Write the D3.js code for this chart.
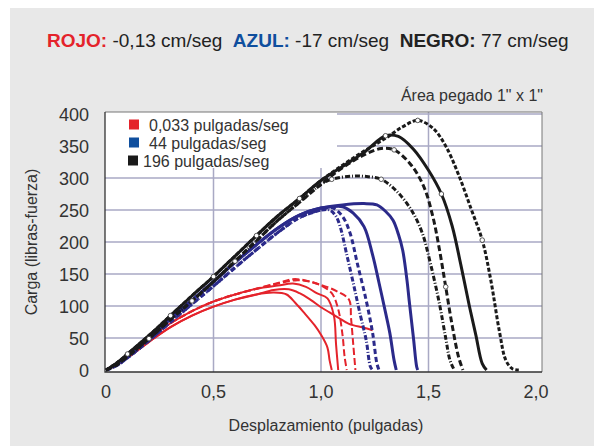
<!DOCTYPE html>
<html><head><meta charset="utf-8">
<script src="https://cdn.jsdelivr.net/npm/d3@7"></script>
<style>body{margin:0;background:#fff}svg{display:block}text{font-family:"Liberation Sans",Arial,sans-serif}</style>
</head><body><svg id="c" width="594" height="446"></svg>
<script>
// ---- data ----
const xTicks = [0, 0.5, 1.0, 1.5, 2.0];
const xTickLabels = ["0", "0,5", "1,0", "1,5", "2,0"];
const yTicks = [0, 50, 100, 150, 200, 250, 300, 350, 400];
const legendLabels = ["0,033 pulgadas/seg", "44 pulgadas/seg", "196 pulgadas/seg"];
const seriesNames = ["rojo", "azul", "negro"];

const blackRiseA = [[0,0],[0.05,11],[0.1,25],[0.2,54],[0.3,85],[0.4,116],[0.5,146],[0.6,178],[0.7,210],[0.8,241],[0.9,268],[1.0,296]];
const blackRiseB = [[0,0],[0.05,8],[0.1,21],[0.2,49],[0.3,79],[0.4,108],[0.5,138],[0.6,170],[0.7,202],[0.8,234],[0.9,262],[1.0,290]];
const blueRiseA  = [[0,0],[0.05,9],[0.1,22],[0.2,50],[0.3,80],[0.4,109],[0.5,138],[0.6,168],[0.7,196],[0.8,222],[0.9,242],[1.0,253]];
const blueRiseB  = [[0,0],[0.05,7],[0.1,19],[0.2,46],[0.3,75],[0.4,103],[0.5,131],[0.6,160],[0.7,188],[0.8,215],[0.9,238],[1.0,250]];
const redRiseA   = [[0,0],[0.05,10],[0.1,22],[0.2,49],[0.3,73],[0.4,92],[0.5,107],[0.6,118],[0.7,127]];
const redRiseB   = [[0,0],[0.05,8],[0.1,19],[0.2,44],[0.3,67],[0.4,85],[0.5,99],[0.6,110],[0.7,118]];

const black1 = [[1.1,320],[1.2,342],[1.3,362],[1.38,380],[1.45,390],[1.52,378],[1.58,350],[1.64,305],[1.7,250],[1.75,203],[1.79,140],[1.83,60],[1.86,15],[1.89,2],[1.92,0]];
const black2 = [[1.1,318],[1.2,340],[1.3,366],[1.36,365],[1.43,345],[1.5,312],[1.56,275],[1.61,225],[1.65,165],[1.69,100],[1.72,55],[1.75,10],[1.77,0]];
const black3 = [[1.1,316],[1.2,336],[1.28,346],[1.34,344],[1.42,320],[1.48,285],[1.52,240],[1.55,190],[1.58,130],[1.61,70],[1.64,20],[1.66,0]];
const black4 = [[1.05,298],[1.15,303],[1.22,302],[1.28,298],[1.35,280],[1.42,250],[1.47,215],[1.51,165],[1.55,105],[1.58,50],[1.6,15],[1.62,0]];

const blue1 = [[1.1,258],[1.2,260],[1.26,258],[1.3,248],[1.335,234],[1.36,212],[1.38,187],[1.4,140],[1.41,109],[1.43,50],[1.445,5],[1.45,0]];
const blue2 = [[1.05,255],[1.1,255],[1.15,245],[1.2,224],[1.24,180],[1.27,136],[1.3,90],[1.32,58],[1.34,15],[1.35,0]];
const blue3 = [[1.05,254],[1.1,240],[1.135,214],[1.17,165],[1.21,109],[1.24,58],[1.26,10],[1.27,0]];
const blue4 = [[1.04,250],[1.07,240],[1.09,223],[1.12,180],[1.15,136],[1.18,90],[1.21,47],[1.23,5],[1.24,0]];

const red1 = [[0.8,135],[0.88,140],[0.95,138],[1.0,132],[1.05,120],[1.08,95],[1.1,55],[1.11,20],[1.12,0]];
const red2 = [[0.8,132],[0.87,135],[0.93,130],[0.98,120],[1.03,112],[1.06,85],[1.07,40],[1.08,0]];
const red3 = [[0.78,125],[0.85,126],[0.9,120],[0.95,110],[1.0,98],[1.04,90],[1.08,82],[1.13,72],[1.2,66],[1.24,62]];
const red4 = [[0.78,121],[0.84,118],[0.88,105],[0.92,90],[0.97,70],[1.0,55],[1.03,35],[1.04,15],[1.05,0]];
const red5 = [[0.8,136],[0.88,142],[1.0,133],[1.08,122],[1.13,110],[1.14,80],[1.15,40],[1.16,0]];

// ---- drawing ----
const svg = d3.select("#c");
const COL = {rojo:"#e4232b", azul:"#2b2a8a", negro:"#1a1a1a", azulT:"#0f4f9e"};
svg.append("rect").attr("x",10).attr("y",8).attr("width",584).attr("height",438).attr("fill","#e8e8e8");

const L=105, R=542, T=112, B=372;
const x = d3.scaleLinear().domain([0,2]).range([106,536]);
const y = d3.scaleLinear().domain([0,400]).range([370,114]);

// title
const title = svg.append("text").attr("x",47).attr("y",47).attr("font-size",19).attr("fill","#222");
[["ROJO:",COL.rojo,true],[" -0,13 cm/seg  ","#222",false],["AZUL:",COL.azulT,true],[" -17 cm/seg  ","#222",false],["NEGRO:","#222",true],[" 77 cm/seg","#222",false]]
 .forEach(([t,c,b])=>title.append("tspan").text(t).attr("fill",c).attr("font-weight",b?"bold":"normal").attr("xml:space","preserve"));

svg.append("rect").attr("x",L).attr("y",T).attr("width",R-L).attr("height",B-T).attr("fill","#fff");
svg.append("defs").append("clipPath").attr("id","pc").append("rect").attr("x",L).attr("y",T).attr("width",R-L).attr("height",B-T);

const g = svg.append("g").attr("clip-path","url(#pc)");
// grid
g.selectAll(".hg").data(yTicks.slice(1)).join("line").attr("x1",L).attr("x2",R)
 .attr("y1",d=>y(d)).attr("y2",d=>y(d)).attr("stroke","#a9a9c4").attr("stroke-width",1.5);
g.selectAll(".vg").data(xTicks.slice(1,4)).join("line").attr("y1",T).attr("y2",B)
 .attr("x1",d=>x(d)).attr("x2",d=>x(d)).attr("stroke","#a9a9c4").attr("stroke-width",1.5);

// legend box (white, covers grid)
g.append("rect").attr("x",L).attr("y",T).attr("width",232).attr("height",56).attr("fill","#fff");

const line = d3.line().x(d=>x(d[0])).y(d=>y(d[1])).curve(d3.curveCatmullRom.alpha(0.5));
const curves = [
 {rise:redRiseB, d:red3, c:COL.rojo, w:2, dash:null},
 {rise:redRiseB, d:red4, c:COL.rojo, w:2, dash:null},
 {rise:redRiseA, d:red2, c:COL.rojo, w:2, dash:null},
 {rise:redRiseA, d:red1, c:COL.rojo, w:2, dash:"7,3"},
 {rise:redRiseA, d:red5, c:COL.rojo, w:2, dash:"7,3"},
 {rise:blueRiseB, d:blue4, c:COL.azul, w:3, dash:"5,2,1,2"},
 {rise:blueRiseB, d:blue3, c:COL.azul, w:3, dash:"5,3"},
 {rise:blueRiseA, d:blue2, c:COL.azul, w:3, dash:null},
 {rise:blueRiseA, d:blue1, c:COL.azul, w:3, dash:null},
 {rise:blackRiseB, d:black4, c:COL.negro, w:3, dash:"5,2,1,2"},
 {rise:blackRiseB, d:black3, c:COL.negro, w:3, dash:"6,3"},
 {rise:blackRiseA, d:black2, c:COL.negro, w:3, dash:null},
 {rise:blackRiseA, d:black1, c:COL.negro, w:3, dash:"4,2"}
];
curves.forEach(cv=>{
  const pts = cv.rise.filter(p=>p[0] < cv.d[0][0]).concat(cv.d);
  g.append("path").attr("d",line(pts)).attr("fill","none").attr("stroke",cv.c)
   .attr("stroke-width",cv.w).attr("stroke-dasharray",cv.dash).attr("stroke-linejoin","round");
});
// markers on black curves
const markIdx = [[black1,[4,9]],[black2,[2,6]],[black3,[3,8]],[black4,[0,3]],[blackRiseA,[2,4,6,8,10]],[blackRiseB,[3,5,7]]];
markIdx.forEach(([arr,idx])=>idx.forEach(i=>{
  g.append("circle").attr("cx",x(arr[i][0])).attr("cy",y(arr[i][1])).attr("r",2.3)
   .attr("fill","#fff").attr("stroke","#333").attr("stroke-width",0.8);
}));

// frame
svg.append("path").attr("d",`M${L},${T}H${R}V${B}`).attr("fill","none").attr("stroke","#777").attr("stroke-width",1);
svg.append("path").attr("d",`M${L},${T}V${B}H${R}`).attr("fill","none").attr("stroke","#333").attr("stroke-width",1.3);

// legend
const legColors = [COL.rojo, COL.azulT, COL.negro];
legendLabels.forEach((t,i)=>{
  const yy = 125 + i*18;
  svg.append("rect").attr("x",i==2?128:129).attr("y",yy-5.5).attr("width",10).attr("height",10).attr("fill",legColors[i]);
  svg.append("text").attr("x",i==2?143:149).attr("y",yy+5.5).attr("font-size",16).attr("fill","#333").text(t);
});

// axes labels
svg.selectAll(".yt").data(yTicks).join("text").attr("x",89).attr("y",d=>y(d)+6.5).attr("text-anchor","end")
 .attr("font-size",18).attr("fill","#333").text(d=>d);
svg.selectAll(".xt").data(xTicks).join("text").attr("x",d=>x(d)).attr("y",398).attr("text-anchor","middle")
 .attr("font-size",18).attr("fill","#333").text((d,i)=>xTickLabels[i]);
svg.append("text").attr("transform","translate(37,242) rotate(-90)").attr("text-anchor","middle")
 .attr("font-size",16).attr("fill","#333").text("Carga (libras-fuerza)");
svg.append("text").attr("x",326).attr("y",431).attr("text-anchor","middle").attr("font-size",16).attr("fill","#333").text("Desplazamiento (pulgadas)");
svg.append("text").attr("x",543).attr("y",101).attr("text-anchor","end").attr("font-size",16).attr("fill","#333").text("Área pegado 1\" x 1\"");
</script></body></html>
